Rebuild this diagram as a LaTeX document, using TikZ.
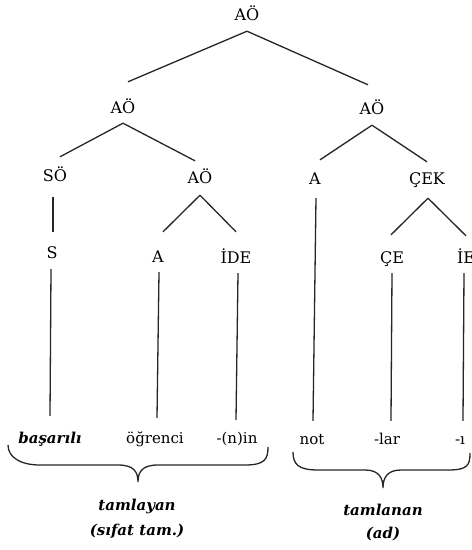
\documentclass[tikz,border=0pt]{standalone}
\usepackage{fontspec}
\setmainfont{DejaVu Serif}
\begin{document}
\begin{tikzpicture}[x=1pt,y=-1pt,
  lab/.style={anchor=base,inner sep=0pt,text height=11pt,text depth=3pt,font=\fontsize{16}{18}\selectfont},
  wrd/.style={lab},
  bwrd/.style={anchor=base,inner sep=0pt,font=\fontsize{15}{17}\selectfont\bfseries\itshape},
  edge/.style={line width=1.3pt,draw=black!85},
  brc/.style={line width=1.3pt,draw=black!85}]
\fill[white] (0,0) rectangle (472,550);
\useasboundingbox (0,0) rectangle (472,550);
% tree labels
\node[lab] (root) at (247,20) {AÖ};
\node[lab] (L) at (123,113) {AÖ};
\node[lab] (R) at (372,114) {AÖ};
\node[lab] (SO) at (55,181) {SÖ};
\node[lab] (LM) at (200,183) {AÖ};
\node[lab] (RA) at (315,184) {A};
\node[lab] (CEK) at (427,184) {ÇEK};
\node[lab] (S) at (52,258) {S};
\node[lab] (A2) at (158,262) {A};
\node[lab] (IDE) at (236,263) {İDE};
\node[lab] (CE) at (392,263) {ÇE};
\node[lab] (IE) at (466,263) {İE};
% words
\node[wrd,font=\fontsize{15}{17}\selectfont\bfseries\itshape] (w1) at (50,443) {başarılı};
\node[wrd,font=\fontsize{15}{17}\selectfont] (w2) at (155,443) {öğrenci};
\node[wrd,font=\fontsize{15}{17}\selectfont] (w3) at (237,443) {-(n)in};
\node[wrd,font=\fontsize{15}{17}\selectfont] (w4) at (312,444) {not};
\node[wrd,font=\fontsize{15}{17}\selectfont] (w5) at (387,444) {-lar};
\node[wrd,font=\fontsize{15}{17}\selectfont] (w6) at (460,444) {-ı};
% edges
\draw[edge] ([yshift=-8pt]root.south) -- ([xshift=5pt,yshift=20pt]L.north);
\draw[edge] ([yshift=-8pt]root.south) -- ([xshift=-4pt,yshift=18pt]R.north);
\draw[edge] ([yshift=-7pt]L.south) -- ([xshift=5pt,yshift=13pt]SO.north);
\draw[edge] ([yshift=-7pt]L.south) -- ([xshift=-5pt,yshift=11pt]LM.north);
\draw[edge] ([yshift=-8pt]R.south) -- ([xshift=5pt,yshift=13pt]RA.north);
\draw[edge] ([yshift=-8pt]R.south) -- ([yshift=11pt]CEK.north);
\draw[edge] ([xshift=-2pt,yshift=-13pt]SO.south) -- ([xshift=1pt,yshift=15pt]S.north);
\draw[edge] ([yshift=-9pt]LM.south) -- ([xshift=5pt,yshift=19pt]A2.north);
\draw[edge] ([yshift=-9pt]LM.south) -- ([yshift=20pt]IDE.north);
\draw[edge] ([xshift=1pt,yshift=-11pt]CEK.south) -- ([xshift=-1pt,yshift=17pt]CE.north);
\draw[edge] ([xshift=1pt,yshift=-11pt]CEK.south) -- ([yshift=16pt]IE.north);
\draw[edge] ([xshift=-1pt,yshift=-8pt]S.south) -- ([yshift=16pt]w1.north);
\draw[edge] ([xshift=1pt,yshift=-7pt]A2.south) -- ([xshift=2pt,yshift=14pt]w2.north);
\draw[edge] ([xshift=2pt,yshift=-7pt]IDE.south) -- ([xshift=-1pt,yshift=12pt]w3.north);
\draw[edge] ([xshift=1pt,yshift=-11pt]RA.south) -- ([xshift=1pt,yshift=12pt]w4.north);
\draw[edge] ([yshift=-7pt]CE.south) -- ([xshift=4pt,yshift=12pt]w5.north);
\draw[edge] ([xshift=-2pt,yshift=-7pt]IE.south) -- ([xshift=3pt,yshift=12pt]w6.north);
% braces
\coordinate (b1l) at (8,445);
\coordinate (b1t) at (138,482);
\coordinate (b1r) at (268,447);
\coordinate (b2l) at (293,452);
\coordinate (b2t) at (383,488);
\coordinate (b2r) at (470,453);
\draw[brc] (b1l) .. controls +(0,12) and +(-20,0) .. (40,465) -- (118,465)
  .. controls +(16,0) and +(0,-10) .. (b1t)
  .. controls +(0,-10) and +(-16,0) .. (158,465) -- (245,465)
  .. controls +(20,0) and +(0,12) .. (b1r);
\draw[brc] (b2l) .. controls +(0,12) and +(-20,0) .. (318,470) -- (365,470)
  .. controls +(14,0) and +(0,-10) .. (b2t)
  .. controls +(0,-10) and +(-14,0) .. (401,470) -- (448,470)
  .. controls +(20,0) and +(0,12) .. (b2r);
% brace labels
\node[bwrd] (t1) at (137,510) {tamlayan};
\node[bwrd] (t1b) at (137,535) {(sıfat tam.)};
\node[bwrd] (t2) at (383,515) {tamlanan};
\node[bwrd] (t2b) at (383,538) {(ad)};
\end{tikzpicture}
\end{document}
